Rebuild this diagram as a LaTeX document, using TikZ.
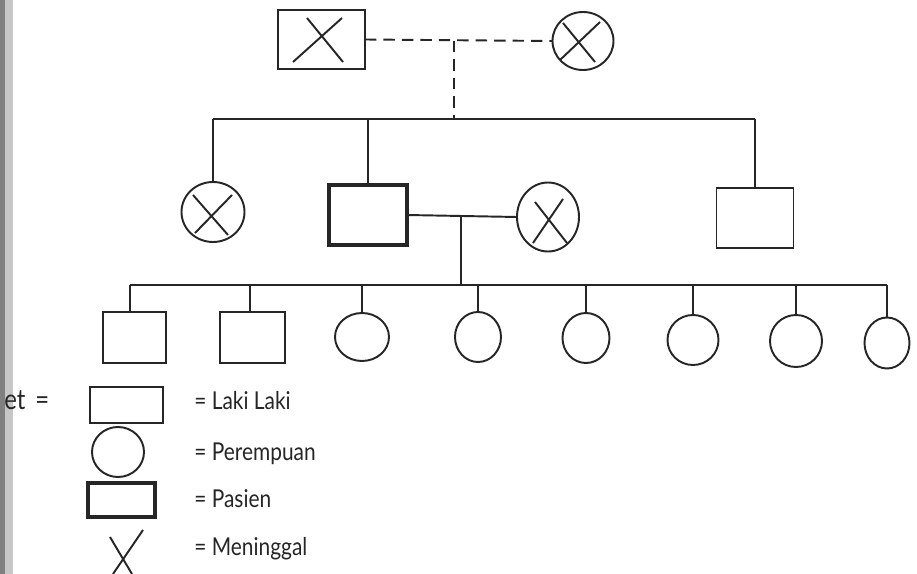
\documentclass[tikz,border=0pt]{standalone}
\usepackage{fontspec}
\setmainfont{Lato}[FakeStretch=0.85]
\usetikzlibrary{shapes.geometric}
\newcommand\pxu{0.02cm}
\tikzset{
  line/.style={line width=1.1pt, black!85},
  male/.style={draw, line width=1.1pt, black!85, rectangle, inner sep=0, outer sep=0},
  female/.style={draw, line width=1.1pt, black!85, ellipse, inner sep=0, outer sep=0},
  patient/.style={draw, line width=2.6pt, black!85, rectangle, inner sep=0, outer sep=0},
  crossx/.style={line width=1.1pt, black!85},
  legtext/.style={anchor=base west, font=\fontsize{14}{16}\selectfont, text=black!85, inner sep=0},
  kinlink/.style={dash pattern=on 6.5pt off 4pt, line width=1.1pt, black!85}
}
\begin{document}
\begin{tikzpicture}[x=0.02cm,y=-0.02cm]
\useasboundingbox (0,0) rectangle (917,574);
\fill[white] (0,0) rectangle (917,574);
\fill[black!22] (0,0) rectangle (13,574);
\fill[black!50] (0,0) rectangle (5,574);

% grandparents
\node[male, minimum width=87*\pxu, minimum height=59*\pxu] (gf) at (321.5,39.5) {};
\node[female, minimum width=61*\pxu, minimum height=58*\pxu] (gm) at (583,41) {};
\draw[crossx] ([shift={(-14.5,-21.5)}]gf.center) -- ([shift={(21.5,22.5)}]gf.center);
\draw[crossx] ([shift={(-28.5,22.5)}]gf.center) -- ([shift={(20.5,-21.5)}]gf.center);
\draw[crossx] ([shift={(-20,-18)}]gm.center) -- ([shift={(12,21)}]gm.center);
\draw[crossx] ([shift={(17,-19)}]gm.center) -- ([shift={(-23,19)}]gm.center);
\draw[kinlink] (gf.east) -- (gm.west);
\coordinate (gpmid) at (454,41);
\coordinate (sibbar) at (454,119);
\draw[kinlink] (gpmid) -- (sibbar);

% second generation
\node[female, minimum width=63*\pxu, minimum height=60*\pxu] (aunt) at (213,212) {};
\draw[crossx] ([shift={(-20,-17)}]aunt.center) -- ([shift={(15,23)}]aunt.center);
\draw[crossx] ([shift={(19,-17)}]aunt.center) -- ([shift={(-18,21)}]aunt.center);
\node[patient, minimum width=78*\pxu, minimum height=60*\pxu] (pat) at (368,215) {};
\node[female, minimum width=62*\pxu, minimum height=69*\pxu] (wife) at (548,217) {};
\draw[crossx] ([shift={(-13,-15)}]wife.center) -- ([shift={(19,26)}]wife.center);
\draw[crossx] ([shift={(15,-18)}]wife.center) -- ([shift={(-15,26)}]wife.center);
\node[male, minimum width=77*\pxu, minimum height=60*\pxu] (uncle) at (755,218) {};

\draw[line] (aunt.north |- sibbar) -- (uncle.north |- sibbar);
\draw[line] (aunt.north |- sibbar) -- (aunt.north);
\draw[line] (pat.north |- sibbar) -- (pat.north);
\draw[line] (uncle.north |- sibbar) -- (uncle.north);

% marriage and children
\draw[line] (pat.east) -- (wife.west);
\coordinate (marmid) at (461,217);
\coordinate (kidbar) at (461,285);
\draw[line] (marmid) -- (kidbar);

\node[male, minimum width=63*\pxu, minimum height=51*\pxu] (c1) at (134.5,337.5) {};
\node[male, minimum width=65*\pxu, minimum height=51*\pxu] (c2) at (252.5,337.5) {};
\node[female, minimum width=54*\pxu, minimum height=48*\pxu] (c3) at (362,337) {};
\node[female, minimum width=46*\pxu, minimum height=50*\pxu] (c4) at (478,337) {};
\node[female, minimum width=47*\pxu, minimum height=50*\pxu] (c5) at (586,338) {};
\node[female, minimum width=51*\pxu, minimum height=50*\pxu] (c6) at (693,340) {};
\node[female, minimum width=52*\pxu, minimum height=52*\pxu] (c7) at (796,341) {};
\node[female, minimum width=45*\pxu, minimum height=51*\pxu] (c8) at (887,343) {};

\coordinate (d1) at ([xshift=-4.5*\pxu]c1.north);
\coordinate (d2) at ([xshift=-2.5*\pxu]c2.north);
\draw[line] (d1 |- kidbar) -- (c8.north |- kidbar);
\draw[line] (d1 |- kidbar) -- (d1);
\draw[line] (d2 |- kidbar) -- (d2);
\foreach \c in {c3,c4,c5,c6,c7,c8}
  \draw[line] (\c.north |- kidbar) -- (\c.north);

% legend
\node[legtext] (ket) at (4,410) {\fontsize{16}{18}\selectfont et\hspace{0.2cm}=};
\node[male, minimum width=73*\pxu, minimum height=36*\pxu] (lm) at (126.5,405) {};
\node[legtext] (tm) at (194,410) {= Laki Laki};
\node[female, minimum width=52*\pxu, minimum height=50*\pxu] (lf) at (118,452) {};
\node[legtext] (tf) at (194,460) {= Perempuan};
\node[patient, minimum width=67*\pxu, minimum height=34*\pxu] (lp) at (121.5,500) {};
\node[legtext] (tp) at (194,507) {= Pasien};
\coordinate (lx) at (125,555);
\draw[crossx] ([shift={(-15,-18)}]lx) -- ([shift={(7,19)}]lx);
\draw[crossx] ([shift={(18,-25)}]lx) -- ([shift={(-12,19)}]lx);
\node[legtext] (tx) at (194,555) {= Meninggal};
\end{tikzpicture}
\end{document}
